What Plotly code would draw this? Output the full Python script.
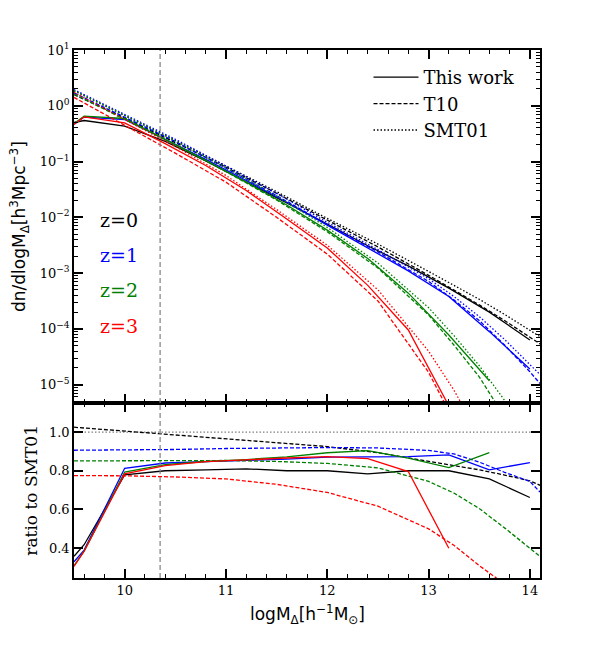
import plotly.graph_objects as go
from plotly.subplots import make_subplots

# halo mass function at z=0..3, log10 of dn/dlogM
redshifts = ["z=0", "z=1", "z=2", "z=3"]
colors = ["black", "blue", "green", "red"]

mass_bins = [9.5, 9.6, 10.0, 10.4, 10.8, 11.2, 11.6, 12.0, 12.4, 12.8, 13.2, 13.6, 14.0]
mass_model = [9.5, 10.0, 10.5, 11.0, 11.5, 12.0, 12.5, 13.0, 13.25, 13.5, 13.75, 14.0, 14.1]

# "This work" (simulation bins)
lognf_this_z0 = [-0.30, -0.264, -0.366, -0.64, -0.99, -1.36, -1.74, -2.12, -2.51, -2.87, -3.27, -3.70, -4.20]
lognf_this_z1 = [-0.33, -0.203, -0.246, -0.60, -0.96, -1.34, -1.73, -2.14, -2.55, -2.96, -3.42, -4.05, -4.72]
lognf_this_z2 = [-0.32, -0.186, -0.228, -0.60, -0.98, -1.37, -1.78, -2.23, -2.74, -3.36, -4.11, -4.93]
lognf_this_z3 = [-0.336, -0.20, -0.306, -0.68, -1.07, -1.52, -2.03, -2.55, -3.22, -4.02, -5.38]

# T10 fit
lognf_t10_z0 = [0.20, -0.22, -0.66, -1.10, -1.57, -2.055, -2.53, -3.04, -3.30, -3.57, -3.85, -4.14, -4.27]
lognf_t10_z1 = [0.23, -0.20, -0.64, -1.12, -1.61, -2.13, -2.62, -3.15, -3.48, -3.85, -4.29, -4.77, -4.98]
lognf_t10_z2 = [0.21, -0.24, -0.70, -1.18, -1.69, -2.26, -2.91, -3.75, -4.29, -4.86, -5.58, -6.40, -6.70]
lognf_t10_z3 = [0.15, -0.35, -0.85, -1.37, -2.00, -2.66, -3.50, -4.78, -5.65, -6.40, -7.30, -8.20, -8.60]

# SMT01 fit
lognf_smt_z0 = [0.27, -0.17, -0.62, -1.08, -1.54, -2.02, -2.48, -2.97, -3.22, -3.47, -3.74, -4.02, -4.14]
lognf_smt_z1 = [0.29, -0.15, -0.60, -1.08, -1.57, -2.09, -2.58, -3.10, -3.42, -3.78, -4.19, -4.64, -4.82]
lognf_smt_z2 = [0.27, -0.17, -0.63, -1.11, -1.62, -2.18, -2.82, -3.62, -4.12, -4.66, -5.28, -6.00, -6.30]
lognf_smt_z3 = [0.24, -0.24, -0.73, -1.25, -1.86, -2.50, -3.30, -4.40, -5.10, -5.90, -6.80, -7.70, -8.10]

# ratios to SMT01
ratio_this_z0 = [0.358, 0.418, 0.779, 0.800, 0.805, 0.810, 0.800, 0.800, 0.784, 0.800, 0.800, 0.758, 0.662]
ratio_this_z1 = [0.330, 0.390, 0.813, 0.840, 0.847, 0.852, 0.860, 0.870, 0.870, 0.873, 0.882, 0.805, 0.842]
ratio_this_z2 = [0.310, 0.385, 0.793, 0.832, 0.848, 0.858, 0.872, 0.893, 0.904, 0.865, 0.816, 0.894]
ratio_this_z3 = [0.306, 0.384, 0.784, 0.827, 0.847, 0.857, 0.866, 0.873, 0.863, 0.796, 0.400]

ratio_t10_z0 = [1.025, 1.005, 0.987, 0.968, 0.948, 0.925, 0.893, 0.850, 0.828, 0.805, 0.778, 0.748, 0.725]
ratio_t10_z1 = [0.906, 0.907, 0.910, 0.915, 0.918, 0.920, 0.918, 0.905, 0.887, 0.845, 0.792, 0.745, 0.690]
ratio_t10_z2 = [0.851, 0.852, 0.853, 0.853, 0.848, 0.838, 0.815, 0.745, 0.685, 0.605, 0.505, 0.400, 0.358]
ratio_t10_z3 = [0.775, 0.774, 0.768, 0.758, 0.730, 0.688, 0.617, 0.500, 0.415, 0.310, 0.215, 0.130, 0.100]

mass_cut = 10.35

this_work = [lognf_this_z0, lognf_this_z1, lognf_this_z2, lognf_this_z3]
t10 = [lognf_t10_z0, lognf_t10_z1, lognf_t10_z2, lognf_t10_z3]
smt01 = [lognf_smt_z0, lognf_smt_z1, lognf_smt_z2, lognf_smt_z3]
r_this = [ratio_this_z0, ratio_this_z1, ratio_this_z2, ratio_this_z3]
r_t10 = [ratio_t10_z0, ratio_t10_z1, ratio_t10_z2, ratio_t10_z3]

SERIF = "DejaVu Serif"
SANS = "DejaVu Sans"
LW = 1.3
DASH = "4px,2px"
DOT = "1.5px,2px"

fig = make_subplots(rows=2, cols=1, shared_xaxes=True, vertical_spacing=0)

for i in range(4):
    c = colors[i]
    fig.add_trace(go.Scatter(x=mass_model, y=[10 ** v for v in smt01[i]], mode="lines",
                             line=dict(color=c, width=LW, dash=DOT), showlegend=False), row=1, col=1)
    fig.add_trace(go.Scatter(x=mass_model, y=[10 ** v for v in t10[i]], mode="lines",
                             line=dict(color=c, width=LW, dash=DASH), showlegend=False), row=1, col=1)
    fig.add_trace(go.Scatter(x=mass_bins[:len(this_work[i])], y=[10 ** v for v in this_work[i]], mode="lines",
                             line=dict(color=c, width=LW), showlegend=False), row=1, col=1)

# ratio panel
fig.add_trace(go.Scatter(x=mass_model, y=[1.0] * len(mass_model), mode="lines",
                         line=dict(color="gray", width=LW, dash=DOT), showlegend=False), row=2, col=1)
for i in range(4):
    c = colors[i]
    fig.add_trace(go.Scatter(x=mass_model, y=r_t10[i], mode="lines",
                             line=dict(color=c, width=LW, dash=DASH), showlegend=False), row=2, col=1)
    fig.add_trace(go.Scatter(x=mass_bins[:len(r_this[i])], y=r_this[i], mode="lines",
                             line=dict(color=c, width=LW), showlegend=False), row=2, col=1)

# legend entries
for name, dash in [("This work", "solid"), ("T10", DASH), ("SMT01", DOT)]:
    fig.add_trace(go.Scatter(x=[None], y=[None], mode="lines", name=name,
                             line=dict(color="black", width=LW, dash=dash)), row=1, col=1)

# vertical mass cut
for yref in ["y domain", "y2 domain"]:
    fig.add_shape(type="line", xref="x", yref=yref, x0=mass_cut, x1=mass_cut, y0=0, y1=1,
                  line=dict(color="gray", width=1.2, dash="5px,3px"))

# redshift labels
z_label_y = [-2.05, -2.68, -3.31, -3.94]
for i in range(4):
    fig.add_annotation(x=9.74, y=z_label_y[i], xref="x", yref="y", text=redshifts[i],
                       showarrow=False, xanchor="left", yanchor="middle",
                       font=dict(family=SERIF, size=19, color=colors[i]))

axis_common = dict(showline=True, linecolor="black", linewidth=1.5, mirror="allticks",
                   ticks="inside", ticklen=9, tickwidth=1.5, tickcolor="black",
                   showgrid=False, zeroline=False,
                   tickfont=dict(family=SERIF, size=13, color="black"))

minor_x = dict(ticks="inside", ticklen=4, tickwidth=1, tickcolor="black", dtick=0.2, tick0=9.0, showgrid=False)
fig.update_xaxes(range=[9.5, 14.1], dtick=1, tick0=10, minor=minor_x, **axis_common)
fig.update_xaxes(showticklabels=False, row=1, col=1)

decades = list(range(-5, 2))
minor_log = [m * 10.0 ** e for e in range(-6, 1) for m in range(2, 10)]
fig.update_yaxes(type="log", range=[-5.33, 1.0], tickmode="array",
                 tickvals=[10.0 ** e for e in decades],
                 ticktext=["10<sup>" + str(e).replace("-", "\u2212") + "</sup>" for e in decades],
                 minor=dict(ticks="inside", ticklen=4, tickwidth=1, tickcolor="black",
                            tickmode="array", tickvals=minor_log, showgrid=False),
                 domain=[0.3314, 1.0], row=1, col=1, **axis_common)
fig.update_yaxes(range=[0.246, 1.15], tickmode="array", tickvals=[0.4, 0.6, 0.8, 1.0],
                 ticktext=["0.4", "0.6", "0.8", "1.0"], domain=[0.0, 0.3314], row=2, col=1, **axis_common)

# axis titles
fig.add_annotation(x=-0.117, y=0.6657, xref="paper", yref="paper", textangle=-90, showarrow=False,
                   xanchor="center", yanchor="middle",
                   text="dn/dlogM<sub>\u0394</sub>[h<sup>3</sup>Mpc<sup>\u22123</sup>]",
                   font=dict(family=SANS, size=17, color="black"))
fig.add_annotation(x=-0.094, y=0.1657, xref="paper", yref="paper", textangle=-90, showarrow=False,
                   xanchor="center", yanchor="middle",
                   text="ratio to SMT01", font=dict(family=SERIF, size=17, color="black"))
fig.add_annotation(x=0.5, y=-0.070, xref="paper", yref="paper", showarrow=False,
                   xanchor="center", yanchor="middle",
                   text="logM<sub>\u0394</sub>[h<sup>\u22121</sup>M<sub>\u2299</sub>]",
                   font=dict(family=SANS, size=17, color="black"))

fig.update_layout(
    width=600, height=650,
    margin=dict(l=66, r=68, t=42, b=80),
    plot_bgcolor="white", paper_bgcolor="white",
    legend=dict(x=0.632, y=0.983, xanchor="left", yanchor="top", bgcolor="rgba(0,0,0,0)",
                itemwidth=45, font=dict(family=SERIF, size=18, color="black"), tracegroupgap=0),
)

fig.write_html("out.html")
